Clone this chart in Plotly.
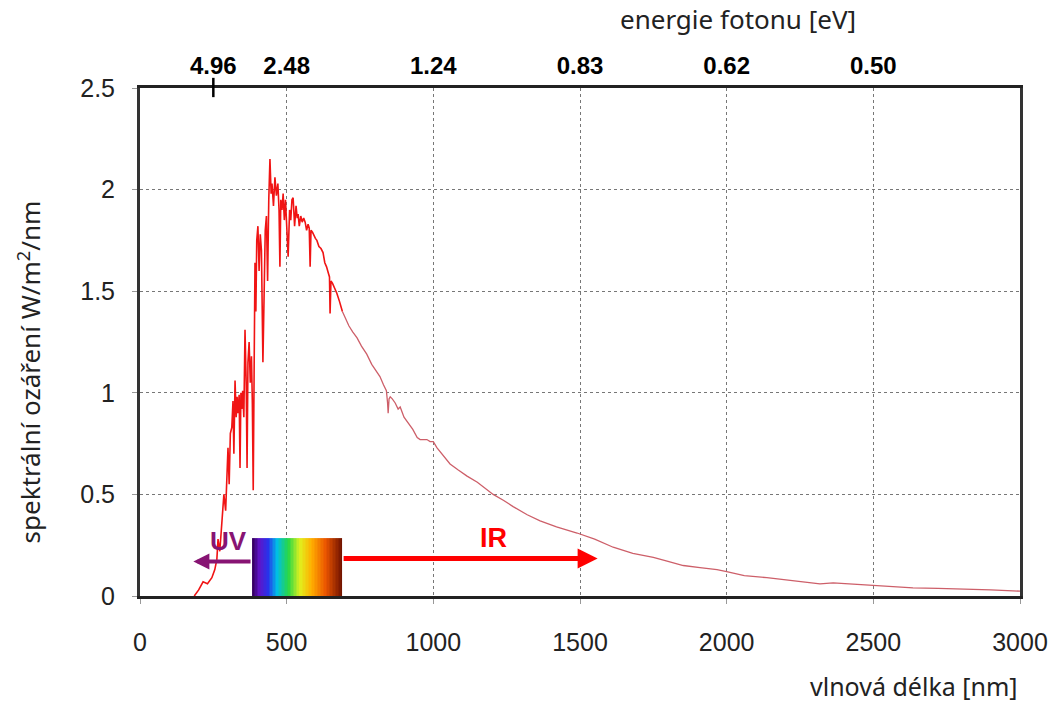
import numpy as np
import plotly.graph_objects as go

# ---------------- data ----------------
wavelength_nm = [185, 200, 215, 230, 245, 255, 262, 266, 272, 279, 286, 292, 296, 300, 304, 308, 313, 317, 320, 324,
                 328, 331, 334, 338, 341, 344, 347, 350, 354, 358, 362, 365, 368, 372, 376, 380, 383, 386, 389, 392,
                 395, 398, 402, 406, 410, 414, 419, 423, 427, 431, 435, 439, 443, 447, 450, 455, 460, 465, 470, 474,
                 477, 480, 484, 488, 492, 496, 500, 505, 510, 514, 518, 522, 527, 532, 536, 539, 543, 548, 553, 558,
                 563, 568, 573, 577, 580, 583, 588, 593, 598, 603, 610, 617, 624, 630, 636, 642, 646, 648, 651, 656,
                 663, 671, 680, 690, 700, 712, 725, 740, 755, 773, 790, 805, 818, 830, 840, 844, 846, 849, 853, 860,
                 870, 880, 887, 900, 915, 930, 945, 955, 965, 978, 989, 1000, 1012, 1030, 1057, 1085, 1115, 1150,
                 1204, 1240, 1272, 1320, 1364, 1420, 1490, 1550, 1613, 1680, 1750, 1800, 1852, 1909, 1967, 2000,
                 2060, 2137, 2200, 2250, 2318, 2363, 2420, 2495, 2560, 2635, 2720, 2818, 2900, 2976, 3000]
irradiance = [0.0, 0.03, 0.07, 0.06, 0.09, 0.13, 0.18, 0.28, 0.22, 0.37, 0.50, 0.42, 0.59, 0.73, 0.55, 0.80, 0.83,
              0.96, 0.70, 1.06, 0.88, 0.98, 0.90, 0.99, 0.63, 1.00, 0.92, 1.01, 0.88, 1.31, 1.05, 0.63, 1.15, 1.25,
              1.05, 1.18, 0.95, 0.52, 1.10, 1.64, 1.40, 1.75, 1.82, 1.60, 1.78, 1.70, 1.15, 1.60, 1.80, 1.87, 1.55,
              1.95, 2.15, 1.98, 2.03, 1.92, 2.06, 1.97, 2.03, 1.90, 1.62, 1.95, 1.90, 1.98, 1.85, 1.95, 1.80, 1.67,
              1.90, 1.85, 1.95, 1.96, 1.82, 1.92, 1.86, 1.88, 1.82, 1.87, 1.84, 1.86, 1.84, 1.80, 1.83, 1.81, 1.62,
              1.80, 1.79, 1.77, 1.76, 1.75, 1.72, 1.71, 1.69, 1.64, 1.62, 1.59, 1.57, 1.39, 1.55, 1.54, 1.52, 1.49,
              1.45, 1.40, 1.37, 1.33, 1.30, 1.27, 1.23, 1.19, 1.14, 1.11, 1.08, 1.04, 1.01, 0.95, 0.90, 0.97, 0.98,
              0.97, 0.95, 0.92, 0.93, 0.88, 0.85, 0.82, 0.78, 0.77, 0.77, 0.77, 0.76, 0.76, 0.73, 0.70, 0.65, 0.62,
              0.59, 0.56, 0.50, 0.47, 0.44, 0.40, 0.37, 0.34, 0.31, 0.28, 0.24, 0.21, 0.19, 0.17, 0.15, 0.14, 0.13,
              0.12, 0.10, 0.09, 0.08, 0.07, 0.06, 0.065, 0.06, 0.055, 0.05, 0.04, 0.038, 0.035, 0.03, 0.025, 0.024]

x_ticks = [0, 500, 1000, 1500, 2000, 2500, 3000]
x_tick_labels = ["0", "500", "1000", "1500", "2000", "2500", "3000"]
y_ticks = [0, 0.5, 1, 1.5, 2, 2.5]
y_tick_labels = ["0", "0.5", "1", "1.5", "2", "2.5"]
top_tick_nm = [250, 500, 1000, 1500, 2000, 2500]
top_tick_ev = ["4.96", "2.48", "1.24", "0.83", "0.62", "0.50"]

visible_band_nm = [382, 689]
visible_band_height = 0.285
uv_arrow_nm = [382, 182]
ir_arrow_nm = [689, 1560]
uv_arrow_y = 0.17
ir_arrow_y = 0.185
uv_label = ("UV", 303, 0.27)
ir_label = ("IR", 1205, 0.285)

# split of the spectrum: saturated red part / thinner pinkish tail
split_nm = 700
idx = next(i for i, w in enumerate(wavelength_nm) if w >= split_nm)

fig = go.Figure()

# rainbow band (visible light)
n = 60
edges = np.linspace(visible_band_nm[0], visible_band_nm[1], n + 1)
zrow = [list(np.linspace(0, 1, n))]
rainbow = [
    [0.0, "rgb(55,0,100)"], [0.07, "rgb(95,20,200)"], [0.17, "rgb(40,50,235)"],
    [0.27, "rgb(0,190,230)"], [0.40, "rgb(40,215,70)"], [0.53, "rgb(225,240,30)"],
    [0.66, "rgb(255,175,0)"], [0.82, "rgb(235,85,0)"], [1.0, "rgb(115,20,0)"],
]
fig.add_trace(go.Heatmap(x=edges, y=[0, visible_band_height], z=zrow, colorscale=rainbow,
                         showscale=False, hoverinfo="skip"))

fig.add_trace(go.Scatter(x=wavelength_nm[idx - 1:], y=irradiance[idx - 1:], mode="lines",
                         line=dict(color="rgb(205,95,105)", width=1.3), hoverinfo="skip"))
fig.add_trace(go.Scatter(x=wavelength_nm[:idx], y=irradiance[:idx], mode="lines",
                         line=dict(color="rgb(240,20,20)", width=1.6), hoverinfo="skip"))
# invisible trace to carry the top energy axis
fig.add_trace(go.Scatter(x=wavelength_nm, y=irradiance, xaxis="x2", mode="lines",
                         line=dict(width=0), opacity=0, hoverinfo="skip"))

# UV / IR arrows
fig.add_annotation(x=uv_arrow_nm[1], y=uv_arrow_y, ax=uv_arrow_nm[0], ay=uv_arrow_y,
                   xref="x", yref="y", axref="x", ayref="y", text="", showarrow=True,
                   arrowhead=2, arrowsize=0.8, arrowwidth=4, arrowcolor="rgb(135,20,115)")
fig.add_annotation(x=ir_arrow_nm[1], y=ir_arrow_y, ax=ir_arrow_nm[0], ay=ir_arrow_y,
                   xref="x", yref="y", axref="x", ayref="y", text="", showarrow=True,
                   arrowhead=2, arrowsize=0.8, arrowwidth=5, arrowcolor="rgb(255,0,0)")
fig.add_annotation(x=uv_label[1], y=uv_label[2], text=uv_label[0], showarrow=False,
                   font=dict(family="Liberation Sans", size=26, color="rgb(135,20,115)", weight="bold"))
fig.add_annotation(x=ir_label[1], y=ir_label[2], text=ir_label[0], showarrow=False,
                   font=dict(family="Liberation Sans", size=27, color="rgb(255,0,0)", weight="bold"))

# tick mark of the 4.96 eV label
fig.add_shape(type="line", xref="x", yref="paper", x0=top_tick_nm[0], x1=top_tick_nm[0],
              y0=0.982, y1=1.02, line=dict(color="black", width=2.5))

# axis titles
fig.add_annotation(xref="paper", yref="paper", x=0.68, xanchor="center", y=1.0, yanchor="middle", yshift=69,
                   text="energie fotonu [eV]", showarrow=False,
                   font=dict(family="Noto Sans", size=26, color="#222"))
fig.add_annotation(xref="paper", yref="paper", x=1.0, xanchor="right", y=0, yanchor="middle", yshift=-90,
                   text="vlnová délka [nm]", showarrow=False,
                   font=dict(family="Noto Sans", size=25, color="#222"))
fig.add_annotation(xref="paper", yref="paper", x=0, xanchor="center", xshift=-110, y=0.44,
                   text="spektrální ozáření W/m<sup>2</sup>/nm", textangle=-90, showarrow=False,
                   font=dict(family="Noto Sans", size=26, color="#222"))

tickfont = dict(family="Liberation Sans", size=25, color="#222")
fig.update_layout(
    width=1060, height=702,
    margin=dict(l=140, r=40, t=88, b=106),
    paper_bgcolor="white", plot_bgcolor="white",
    showlegend=False,
    xaxis=dict(range=[0, 3000], tickvals=x_ticks, ticktext=x_tick_labels, tickfont=tickfont,
               showgrid=True, gridcolor="#777", griddash="dot", gridwidth=1,
               showline=True, linecolor="#222", linewidth=3, mirror=True,
               ticks="outside", ticklen=5, tickcolor="#999", ticklabelstandoff=17, zeroline=False),
    xaxis2=dict(range=[0, 3000], overlaying="x", side="top", tickvals=top_tick_nm, ticktext=top_tick_ev,
                tickfont=dict(family="Liberation Sans", size=24, color="black", weight="bold"),
                showgrid=False, showline=False, ticks="", ticklabelstandoff=8, zeroline=False),
    yaxis=dict(range=[0, 2.5], tickvals=y_ticks, ticktext=y_tick_labels, tickfont=tickfont,
               showgrid=True, gridcolor="#777", griddash="dot", gridwidth=1,
               showline=True, linecolor="#333", linewidth=3, mirror=True,
               ticks="outside", ticklen=5, tickcolor="#999", ticklabelstandoff=12, zeroline=False),
)

fig.write_html("out.html")
